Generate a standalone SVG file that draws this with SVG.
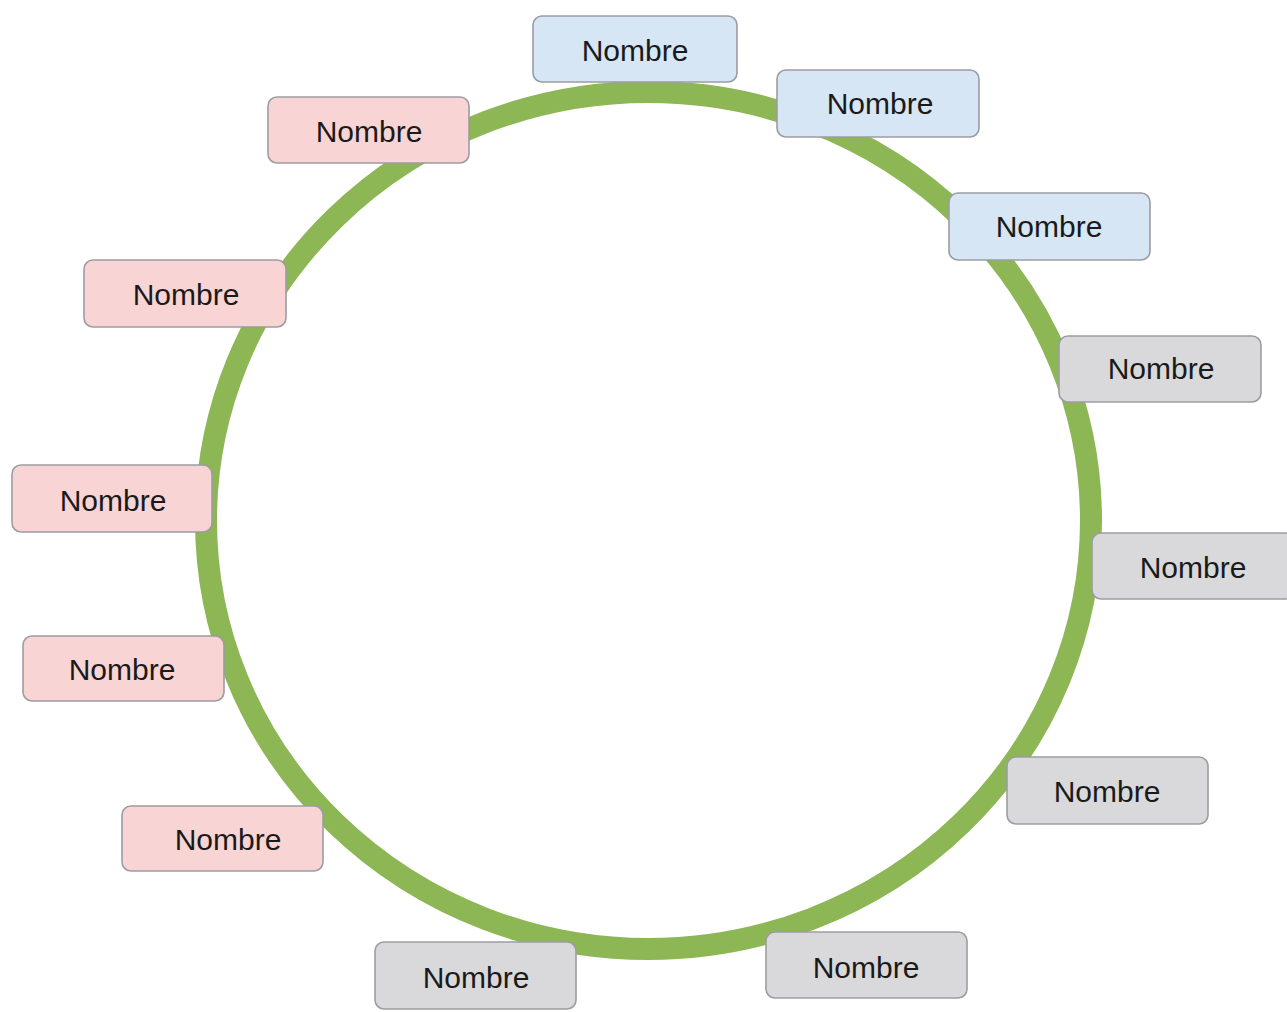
<svg xmlns="http://www.w3.org/2000/svg" width="1287" height="1012" viewBox="0 0 1287 1012">
<style>
.box{stroke:#9c9ca2;stroke-width:1.6}
.blue{fill:#d6e6f4}
.pink{fill:#f9d4d5}
.gray{fill:#d9d9db}
.lbl{font-family:"Liberation Sans",Arial,sans-serif;font-size:30px;fill:#1a1a1a;text-anchor:middle}
</style>
<rect width="1287" height="1012" fill="#ffffff"/>
<g id="connectors">
<ellipse cx="648.5" cy="520.5" rx="442.5" ry="428.5" fill="none" stroke="#8db654" stroke-width="22"/>
</g>
<g id="n1"><rect class="box blue" x="533" y="16" width="204" height="66" rx="9"/><text class="lbl" x="635" y="61">Nombre</text></g>
<g id="n2"><rect class="box blue" x="777" y="70" width="202" height="67" rx="9"/><text class="lbl" x="880" y="114">Nombre</text></g>
<g id="n3"><rect class="box blue" x="949" y="193" width="201" height="67" rx="9"/><text class="lbl" x="1049" y="237">Nombre</text></g>
<g id="n4"><rect class="box gray" x="1059" y="336" width="202" height="66" rx="9"/><text class="lbl" x="1161" y="379">Nombre</text></g>
<g id="n5"><rect class="box gray" x="1092" y="533" width="202" height="66" rx="9"/><text class="lbl" x="1193" y="578">Nombre</text></g>
<g id="n6"><rect class="box gray" x="1007" y="757" width="201" height="67" rx="9"/><text class="lbl" x="1107" y="802">Nombre</text></g>
<g id="n7"><rect class="box gray" x="766" y="932" width="201" height="66" rx="9"/><text class="lbl" x="866" y="978">Nombre</text></g>
<g id="n8"><rect class="box gray" x="375" y="942" width="201" height="67" rx="9"/><text class="lbl" x="476" y="988">Nombre</text></g>
<g id="n9"><rect class="box pink" x="122" y="806" width="201" height="65" rx="9"/><text class="lbl" x="228" y="850">Nombre</text></g>
<g id="n10"><rect class="box pink" x="23" y="636" width="201" height="65" rx="9"/><text class="lbl" x="122" y="680">Nombre</text></g>
<g id="n11"><rect class="box pink" x="12" y="465" width="200" height="67" rx="9"/><text class="lbl" x="113" y="511">Nombre</text></g>
<g id="n12"><rect class="box pink" x="84" y="260" width="202" height="67" rx="9"/><text class="lbl" x="186" y="305">Nombre</text></g>
<g id="n13"><rect class="box pink" x="268" y="97" width="201" height="66" rx="9"/><text class="lbl" x="369" y="142">Nombre</text></g>
</svg>
